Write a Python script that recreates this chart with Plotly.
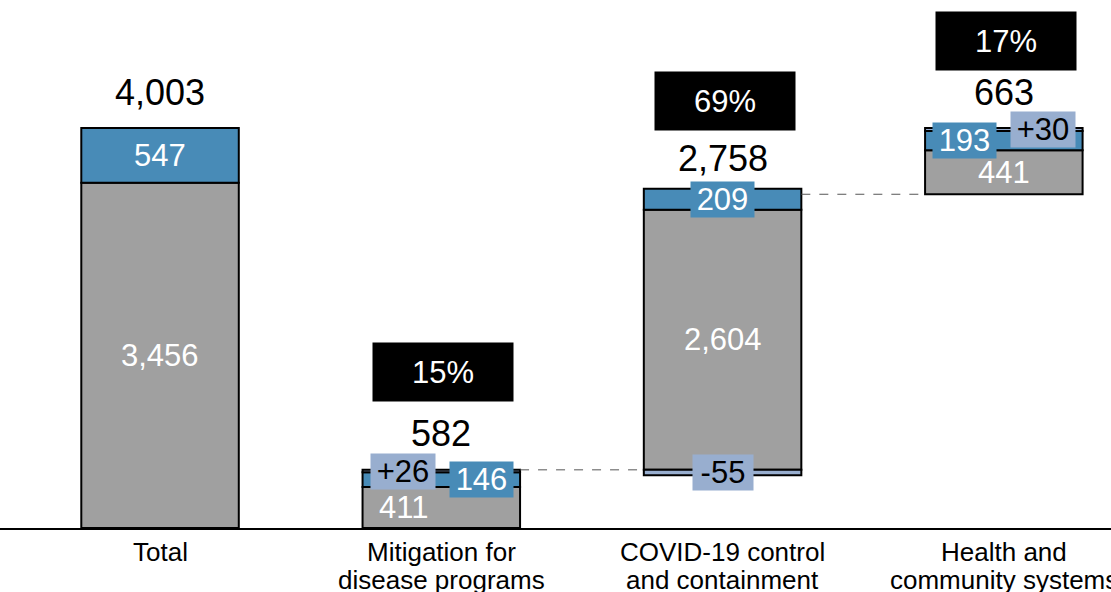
import plotly.graph_objects as go

# ---- data ----
categories = ["Total", "Mitigation for disease programs",
              "COVID-19 control and containment", "Health and community systems"]
label_line1 = ["Total", "Mitigation for", "COVID-19 control", "Health and"]
label_line2 = ["", "disease programs", "and containment", "community systems"]
gray_vals = [3456, 411, 2604, 441]
blue_vals = [547, 146, 209, 193]
adj_vals = [0, 26, -55, 30]
net_vals = [4003, 582, 2758, 663]
pct_labels = ["", "15%", "69%", "17%"]

# ---- style ----
GRAY = "#a0a0a0"
BLUE = "#488bb7"
LIGHT = "#98aecf"
FONT = "Liberation Sans, Arial, sans-serif"
BAR_W = 0.56
gray_dx = [0, -38, 0, 0]
blue_dx = [0, 40, 0, -39]
adj_dx = [0, -38, 0, 39]
pct_dy = [0, 98, 93, 87]

# ---- derived geometry ----
starts = [0, 0, net_vals[1], net_vals[1] + net_vals[2]]
gray_base = list(starts)
blue_base = [s + g for s, g in zip(starts, gray_vals)]
adj_base = [b + bl if a > 0 else s
            for s, b, bl, a in zip(starts, blue_base, blue_vals, adj_vals)]
adj_y = [a if a != 0 else None for a in adj_vals]

fig = go.Figure()
line = dict(color="black", width=2)
fig.add_trace(go.Bar(x=categories, y=gray_vals, base=gray_base, width=BAR_W,
                     marker=dict(color=GRAY, line=line), hoverinfo="skip"))
fig.add_trace(go.Bar(x=categories, y=blue_vals, base=blue_base, width=BAR_W,
                     marker=dict(color=BLUE, line=line), hoverinfo="skip"))
fig.add_trace(go.Bar(x=categories, y=adj_y, base=adj_base, width=BAR_W,
                     marker=dict(color=LIGHT, line=line), hoverinfo="skip"))

ann = []
for i, c in enumerate(categories):
    # gray label
    ann.append(dict(x=c, y=gray_base[i] + gray_vals[i] / 2, text=f"{gray_vals[i]:,}",
                    xshift=gray_dx[i], showarrow=False,
                    font=dict(family=FONT, size=31, color="white")))
    # blue label
    big = blue_vals[i] > 300
    ann.append(dict(x=c, y=blue_base[i] + blue_vals[i] / 2, text=f"{blue_vals[i]:,}",
                    xshift=blue_dx[i], showarrow=False,
                    bgcolor=None if big else BLUE,
                    width=None if big else 59, height=None if big else 31, borderpad=2,
                    font=dict(family=FONT, size=31, color="white")))
    if adj_vals[i] != 0:
        ann.append(dict(x=c, y=adj_base[i] + adj_vals[i] / 2, text=f"{adj_vals[i]:+d}",
                        xshift=adj_dx[i], showarrow=False, bgcolor=LIGHT,
                        width=56 if adj_vals[i] < 0 else 60, height=31, borderpad=2,
                        font=dict(family=FONT, size=31, color="black")))
    top = starts[i] + net_vals[i]
    ann.append(dict(x=c, y=top, text=f"{net_vals[i]:,}", yshift=36, showarrow=False,
                    font=dict(family=FONT, size=36, color="black")))
    if pct_labels[i]:
        ann.append(dict(x=c, y=top, text=pct_labels[i], yshift=pct_dy[i], xshift=2,
                        showarrow=False, bgcolor="black", width=140, height=58,
                        borderpad=0, font=dict(family=FONT, size=31, color="white")))
    # category labels
    ann.append(dict(x=c, y=0, yref="paper", text=label_line1[i], yshift=-24,
                    yanchor="middle", showarrow=False,
                    font=dict(family=FONT, size=26, color="black")))
    if label_line2[i]:
        ann.append(dict(x=c, y=0, yref="paper", text=label_line2[i], yshift=-52,
                        yanchor="middle", showarrow=False,
                        font=dict(family=FONT, size=26, color="black")))

# dashed connectors
shapes = []
for i in (1, 2):
    lvl = starts[i] + net_vals[i]
    shapes.append(dict(type="line", xref="x", yref="y",
                       x0=i + BAR_W / 2, x1=i + 1 - BAR_W / 2, y0=lvl, y1=lvl,
                       line=dict(color="#555555", width=1, dash="dash")))

fig.update_layout(
    width=1111, height=592,
    margin=dict(l=0, r=0, t=0, b=64),
    paper_bgcolor="white", plot_bgcolor="white",
    barmode="overlay", showlegend=False,
    annotations=ann, shapes=shapes,
    xaxis=dict(type="category", range=[-0.569, 3.381], showticklabels=False,
               showgrid=False, zeroline=False, showline=True, linecolor="black",
               linewidth=2, ticks=""),
    yaxis=dict(range=[0, 5284], visible=False, showgrid=False, zeroline=False),
)

fig.write_html("out.html", config={"displayModeBar": False},
               post_script="document.body.style.margin='0';")
